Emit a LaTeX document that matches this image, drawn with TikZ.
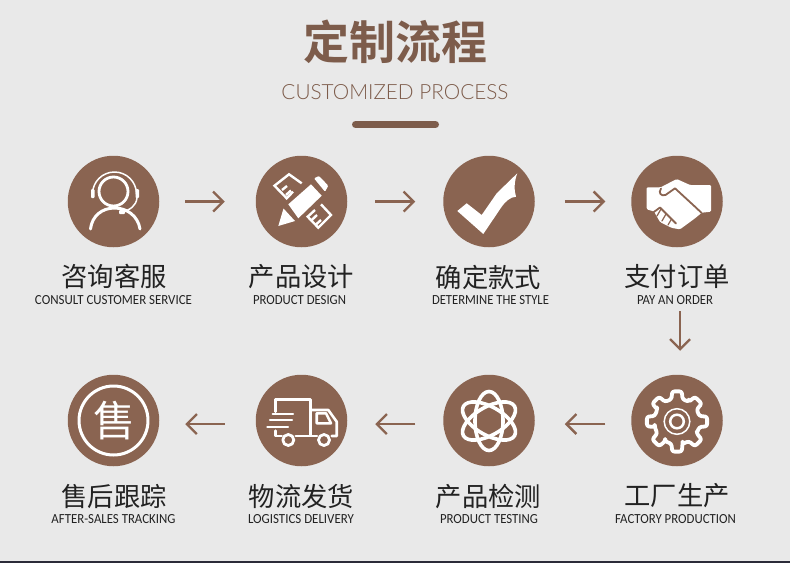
\documentclass[tikz,border=0pt]{standalone}
\usepackage{fontspec}
\usepackage{graphicx}
\usetikzlibrary{arrows.meta}
\setmainfont{Carlito}
\newfontfamily\cjk{Noto Sans CJK SC}
\newfontfamily\cjkb{Noto Sans CJK SC Bold}
\newfontfamily\thin{Lato Light}
\definecolor{bgc}{HTML}{E9E9E9}
\definecolor{brownc}{HTML}{8A6451}
\definecolor{titlec}{HTML}{7D5C4B}
\definecolor{inkc}{HTML}{222222}
\definecolor{barc}{HTML}{2B2B38}
\newcommand\eng[2]{\resizebox{#1pt}{9pt}{#2}}
\tikzset{
  disc/.style={circle,fill=brownc,inner sep=0pt,outer sep=0pt,minimum size=91.5pt},
  zh/.style={text=inkc,inner sep=0pt,font=\cjk\fontsize{26.3}{26.3}\selectfont},
  en/.style={text=inkc,inner sep=0pt,font=\fontsize{12}{12}\selectfont},
  flow/.style={draw=brownc,line width=2.3pt,-{Straight Barb[length=10pt,width=20pt,line width=2.3pt]}},
  ic/.style={draw=white,line width=2.8pt,fill=none,line join=round,line cap=round},
  icf/.style={fill=white,draw=none},
  cut/.style={draw=brownc,line width=1.8pt,fill=none,line join=round,line cap=round}
}
\begin{document}
\begin{tikzpicture}[x=1pt,y=-1pt]
\useasboundingbox (0,0) rectangle (790,563);
\fill[bgc] (0,0) rectangle (790,563);
\fill[barc] (0,561) rectangle (790,563);
% heading
\node[text=titlec,inner sep=0pt,font=\cjkb\fontsize{46}{46}\selectfont] (title) at (395.5,42) {定制流程};
\node[text=titlec,inner sep=0pt] (sub) at (395,92) {\resizebox{227pt}{15pt}{\thin CUSTOMIZED PROCESS}};
\draw[titlec,line width=7pt,line cap=round] (355.5,124.5) -- (435.5,124.5);
% discs
\node[disc] (c1) at (113.5,201.5) {};
\node[disc] (c2) at (301.5,201.5) {};
\node[disc] (c3) at (489,201.5) {};
\node[disc] (c4) at (677,201.5) {};
\node[disc] (c5) at (677,420.5) {};
\node[disc] (c6) at (489,420.5) {};
\node[disc] (c7) at (301.5,420.5) {};
\node[disc] (c8) at (113.5,420.5) {};
% connectors
\draw[flow,shorten <=26pt,shorten >=31pt] (c1.east) -- (c2.west);
\draw[flow,shorten <=28pt,shorten >=28pt] (c2.east) -- (c3.west);
\draw[flow,shorten <=30pt,shorten >=26pt] (c3.east) -- (c4.west);
\draw[flow,shorten <=64pt,shorten >=24pt] ([xshift=3pt]c4.south) -- ([xshift=3pt]c5.north);
\draw[flow,shorten <=26pt,shorten >=30pt] ([yshift=-3.5pt]c5.west) -- ([yshift=-3.5pt]c6.east);
\draw[flow,shorten <=28pt,shorten >=28pt] ([yshift=-3.5pt]c6.west) -- ([yshift=-3.5pt]c7.east);
\draw[flow,shorten <=31pt,shorten >=26pt] ([yshift=-3.5pt]c7.west) -- ([yshift=-3.5pt]c8.east);
% labels
\node[zh] (z1) at (114,277) {咨询客服};
\node[zh] (z2) at (301.5,277) {产品设计};
\node[zh] (z3) at (488.5,277) {确定款式};
\node[zh] (z4) at (677,277) {支付订单};
\node[zh] (z5) at (677,496) {工厂生产};
\node[zh] (z6) at (488.5,496) {产品检测};
\node[zh] (z7) at (301.5,496) {物流发货};
\node[zh] (z8) at (114,496) {售后跟踪};
\node[en] (e1) at (113.5,300) {\eng{157}{CONSULT CUSTOMER SERVICE}};
\node[en] (e2) at (299.5,300) {\eng{93}{PRODUCT DESIGN}};
\node[en] (e3) at (490.5,300) {\eng{117}{DETERMINE THE STYLE}};
\node[en] (e4) at (675,300) {\eng{76}{PAY AN ORDER}};
\node[en] (e5) at (675.5,519) {\eng{121}{FACTORY PRODUCTION}};
\node[en] (e6) at (489,519) {\eng{98}{PRODUCT TESTING}};
\node[en] (e7) at (301,519) {\eng{106}{LOGISTICS DELIVERY}};
\node[en] (e8) at (113.5,519) {\eng{124}{AFTER-SALES TRACKING}};
% icon 1: person with headset
\draw[ic] (113.5,191.5) circle (14.5pt);
\draw[ic,line width=1.5pt] (92.5,194) arc (180:360:22pt and -22pt);
\fill[white,rounded corners=1pt] (91,189) rectangle (94.5,198);
\fill[white,rounded corners=1pt] (135.5,189) rectangle (139,198);
\draw[ic,line width=3pt] (90.5,229) .. controls (92,216) and (102,208) .. (114.5,208) .. controls (127,208) and (138,216) .. (140,229);
\draw[ic,line width=1.5pt] (137,198) .. controls (136,206) and (130,210) .. (122,212);
\fill[white,rounded corners=1pt] (119,210) rectangle (125,214);
% icon 2: pencil and ruler
\fill[white] (278.3,226) -- (283.5,208.5) -- (295,221) -- cycle;
\fill[white] (288.3,204.3) -- (311,184.3) -- (321.7,195.7) -- (298.3,218.3) -- cycle;
\fill[white,rounded corners=1pt] (314,178.3) -- (319,176) -- (328.3,185.7) -- (325,191.7) -- cycle;
\draw[ic,line cap=butt,line join=miter,line width=2.4pt] (301.7,183.3) -- (289,174.3) -- (274.5,185.7) -- (286.7,198.3) -- (293,191.7);
\draw[ic,line cap=butt,line width=2.4pt] (282,190) -- (287,186) (286,195) -- (291,190.5);
\draw[ic,line cap=butt,line join=miter,line width=2.4pt] (321,204.3) -- (331,215) -- (318.3,227.7) -- (307.7,216.7) -- (315,210);
\draw[ic,line cap=butt,line width=2.4pt] (311.7,220) -- (317,215) (316,224.5) -- (321,220);
% icon 3: check mark
\fill[white] (457.3,211) -- (466.7,203.3) -- (481.7,215) -- (496.7,193.3) -- (517.3,173.3) .. controls (514,182) and (514,190) .. (516,196.7) .. controls (510,197) and (505,202) .. (501.7,206.7) -- (483.3,234) -- cycle;
% icon 4: handshake
\fill[white,rounded corners=1.2pt] (646.7,187.3) -- (660.7,187.3) -- (676.7,179) -- (690,185) -- (711,185) -- (711,211.7) -- (701.7,212.7) -- (695,218.3) -- (680,229.3) -- (672,228) -- (660,222) -- (654,211.5) -- (646.7,209.3) -- cycle;
\draw[cut] (661,188.5) .. controls (658,193) and (661,196.5) .. (665.5,195) -- (675,188.3) -- (695,206.7) -- (701.7,213);
\draw[cut] (652.5,213) -- (660,207.5) -- (676,223.5);
\draw[cut,line width=1.2pt] (657,216) -- (661,209) (662,221) -- (666,214) (668,225) -- (671.5,219);
% icon 5: gear
\begin{scope}[shift={(677,421.5)}]
\draw[ic,line width=3.8pt,rounded corners=2.2pt] (-30:23) \foreach \a in {0,45,...,315}{ -- (\a-14:23) -- (\a-9:30.5) -- (\a+9:30.5) -- (\a+14:23) -- (\a+31:23)} -- cycle;
\draw[ic,line width=1.5pt] (0,0) circle (12.8pt);
\draw[ic,line width=2.5pt] (0,0) circle (6.8pt);
\end{scope}
% icon 6: atom
\begin{scope}[shift={(489,421)}]
\foreach \r in {90,30,-30}{
  \draw[ic,line width=3.6pt,rotate=\r] (0,0) ellipse [x radius=29.5pt,y radius=14pt];
}
\end{scope}
% icon 7: truck
\draw[ic,line width=2.6pt] (275.7,411.7) -- (275.7,399.3) -- (310.7,399.3) -- (310.7,436) -- (295.7,436);
\draw[ic,line width=2.6pt] (275.7,430.7) -- (275.7,436) -- (281.7,436);
\draw[ic,line width=2.2pt] (272.7,414.3) -- (293,414.3) (270,420) -- (292,420) (267.3,426.7) -- (288,426.7);
\draw[ic,line width=2.6pt] (310.7,410) -- (328.3,410) -- (336.7,421.7) -- (336.7,436) -- (331.7,436);
\draw[ic,line width=2.6pt] (316.7,413.3) -- (326,413.3) -- (331,423.3) -- (316.7,423.3) -- cycle;
\draw[ic,line width=2.8pt] (288.3,440) circle (5.5pt);
\draw[ic,line width=2.8pt] (324,440) circle (5.5pt);
\draw[ic,line width=2.6pt] (310.7,436) -- (317,436);
% icon 8: sale character
\draw[ic,line width=3pt] (113.5,420.5) circle (34.5pt);
\node[text=white,inner sep=0pt,font=\cjk\fontsize{42}{42}\selectfont] (shou) at (114.5,420.5) {售};
\end{tikzpicture}
\end{document}
